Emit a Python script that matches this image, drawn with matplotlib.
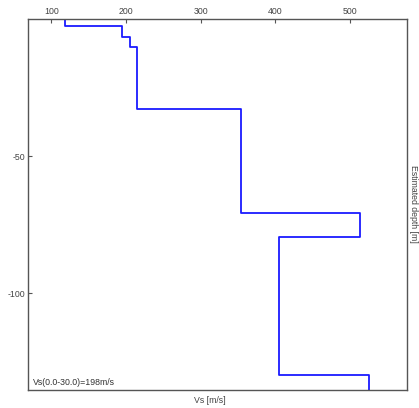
import numpy as np
import matplotlib
matplotlib.use("Agg")
import matplotlib.pyplot as plt

# layer shear-wave velocities (m/s) and layer top depths (m)
vs = [119, 195, 205, 215, 354, 513, 405, 525]
layer_top = [0, 2.4, 6.4, 10.2, 32.8, 70.7, 79.6, 129.6]
max_depth = 135
vs30_text = "Vs(0.0-30.0)=198m/s"

plt.rcParams["font.family"] = ["Liberation Sans", "DejaVu Sans"]
plt.rcParams["font.size"] = 6.3
plt.rcParams["axes.unicode_minus"] = False

# step profile from the layer table
bounds = layer_top + [max_depth]
xs = np.repeat(vs, 2)
ys = -np.array([b for i in range(len(vs)) for b in (bounds[i], bounds[i + 1])])

fig = plt.figure(figsize=(4.19, 4.08), dpi=100)
ax = fig.add_axes([0.0668, 0.0453, 0.9045, 0.9081])
ax.plot(xs, ys, color="#1a1aff", linewidth=1.3)

ax.set_xlim(69, 576)
ax.set_ylim(-max_depth, 0)
ax.set_xticks([100, 200, 300, 400, 500])
ax.set_yticks([-50, -100])
ax.xaxis.tick_top()
ax.tick_params(direction="in", length=3, width=0.8, colors="#555555",
               labelcolor="#444444", pad=2)

for s in ax.spines.values():
    s.set_color("#555555")
    s.set_linewidth(1.0)

ax.text(0.012, 0.008, vs30_text, transform=ax.transAxes, ha="left", va="bottom",
        color="#333333")
fig.text(0.5, 0.018, "Vs [m/s]", ha="center", va="center", color="#444444")
fig.text(0.986, 0.5, "Estimated depth [m]", ha="center", va="center",
         rotation=-90, color="#444444")

fig.savefig("out.png", dpi=100)
